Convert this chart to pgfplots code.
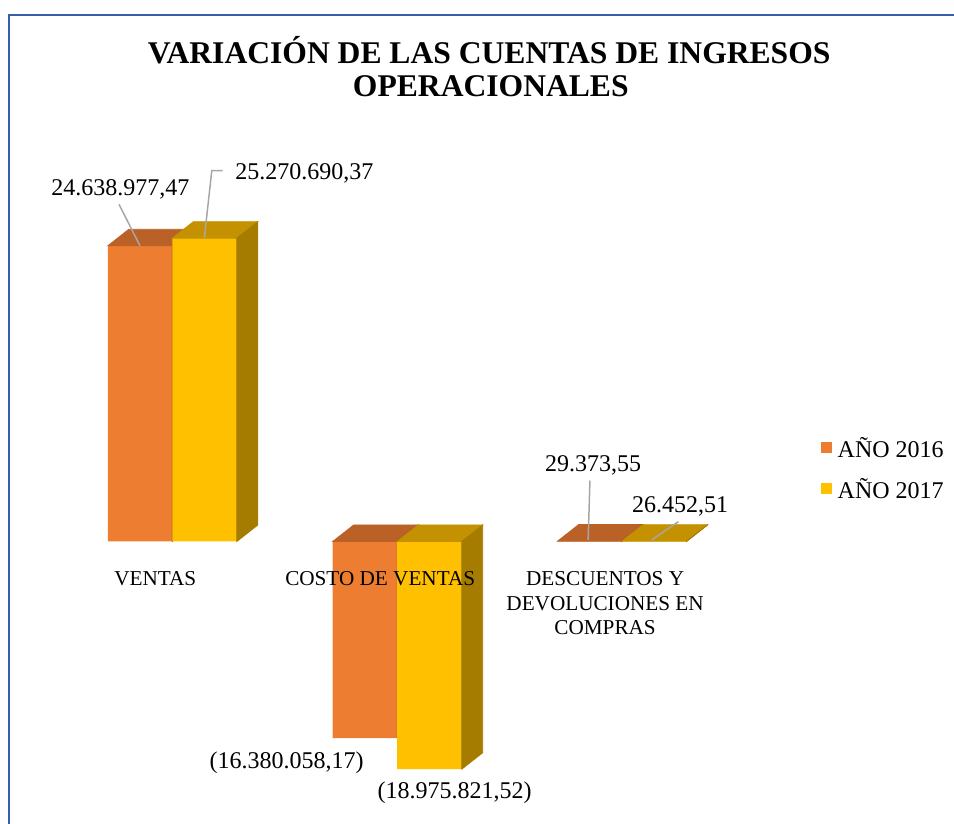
\documentclass[border=0pt]{standalone}
\usepackage{fontspec}
\setmainfont{Liberation Serif}
\usepackage{pgfplots}
\usepackage{pgfplotstable}
\pgfplotsset{compat=1.18}

\definecolor{front16}{HTML}{ED7D31}
\definecolor{top16}{RGB}{185,97,39}
\definecolor{side16}{RGB}{160,84,34}
\definecolor{front17}{HTML}{FFC000}
\definecolor{top17}{RGB}{196,146,0}
\definecolor{side17}{RGB}{166,124,0}
\definecolor{framecol}{RGB}{58,95,170}
\definecolor{leader}{RGB}{166,166,166}

\pgfplotsset{
  sqlegend/.style={legend image code/.code={\fill[##1] (0bp,-2.75bp) rectangle (5.5bp,2.75bp);}},
}

% values in millions; lx, ly = label offsets (bp) from the category centre / bar end
\pgfplotstableread{
x y lx ly label
0 24.63897747 -25.9 25.35 24.638.977,47
1 -16.38005817 -55.25 -15 (16.380.058,17)
2 0.02937355 -14.55 34.9 29.373,55
}\datasixteen
\pgfplotstableread{
x y lx ly label
0 25.27069037 66.05 29.2 25.270.690,37
1 -18.97582152 28.75 -14.65 (18.975.821,52)
2 0.02645251 28.95 14.1 26.452,51
}\dataseventeen

% top and right faces of a 3D bar, drawn relative to the bar's value point
\newcommand\barfaces[3]{%
  \pgfmathsetmacro\bh{\rawy*6}%
  \pgfmathsetmacro\bu{max(0,-\bh)}%
  \pgfmathsetmacro\bl{min(0,-\bh)}%
  \pgfmathsetmacro\buu{\bu+8.25}%
  \pgfmathsetmacro\bll{\bl+8.25}%
  \pgfmathsetmacro\bxl{#1-16.125}%
  \pgfmathsetmacro\bxr{#1+16.125}%
  \pgfmathsetmacro\bxll{\bxl+10.5}%
  \pgfmathsetmacro\bxrr{\bxr+10.5}%
  \fill[#2, fill opacity=1, draw opacity=1] (\bxl bp,\bu bp) -- (\bxr bp,\bu bp) -- (\bxrr bp,\buu bp) -- (\bxll bp,\buu bp) -- cycle;
  \fill[#3, fill opacity=1, draw opacity=1] (\bxr bp,\bl bp) -- (\bxrr bp,\bll bp) -- (\bxrr bp,\buu bp) -- (\bxr bp,\bu bp) -- cycle;
}

\begin{document}
\begin{tikzpicture}
\path[use as bounding box] (0,0) rectangle (477bp,412bp);
\draw[framecol, line width=1bp] (4.65bp,-5bp) -- (4.65bp,404.65bp) -- (485bp,404.65bp);
\begin{axis}[
  at={(0,0)}, anchor=south west,
  x=112.45bp, y=6bp,
  xmin=-0.7661, xmax=3.4758, ymin=-23.542, ymax=45.125,
  axis x line=middle, axis y line=none,
  axis line style={draw=none},
  major tick length=0pt,
  hide obscured x ticks=false,
  xtick={0,1,2},
  xticklabels={VENTAS, COSTO DE VENTAS, {DESCUENTOS Y\\DEVOLUCIONES EN\\COMPRAS}},
  xticklabel style={anchor=north, align=center, xshift=-8.5bp, yshift=-15bp, inner sep=0pt,
    font=\fontsize{10.6bp}{12.25bp}\selectfont},
  ytick=\empty,
  axis on top,
  clip=false,
  clip marker paths=true,
  legend style={draw=none, fill=none, at={(0.8603,0.4699)}, anchor=north west,
    font=\fontsize{12bp}{14bp}\selectfont, inner sep=0pt, row sep=10.5bp, column sep=2.8bp,
    nodes={inner sep=0pt, text height=10bp, text depth=0bp}},
  legend cell align=left,
]
\addplot[ybar, bar width=32.25bp, bar shift=-16.125bp, fill=front16, draw=none, sqlegend,
  point meta=explicit symbolic, nodes near coords, nodes near coords align={anchor=base},
  visualization depends on={\thisrow{lx}\as\lx},
  visualization depends on={\thisrow{ly}\as\ly},
  every node near coord/.append style={anchor=base, xshift=\lx bp, yshift=\ly bp,
    font=\fontsize{12bp}{14bp}\selectfont, text=black, inner sep=0pt},
] table[x=x, y=y, meta=label] {\datasixteen};
\addlegendentry{AÑO 2016}
\addplot[forget plot, only marks, mark=*, mark size=0pt,
  mark options={draw opacity=0, fill opacity=0}, scatter,
  visualization depends on={rawy\as\rawy},
  scatter/@pre marker code/.code={\barfaces{-16.125}{top16}{side16}},
  scatter/@post marker code/.code={},
] table[x=x, y=y] {\datasixteen};
\addplot[ybar, bar width=32.25bp, bar shift=16.125bp, fill=front17, draw=none, sqlegend,
  point meta=explicit symbolic, nodes near coords, nodes near coords align={anchor=base},
  visualization depends on={\thisrow{lx}\as\lx},
  visualization depends on={\thisrow{ly}\as\ly},
  every node near coord/.append style={anchor=base, xshift=\lx bp, yshift=\ly bp,
    font=\fontsize{12bp}{14bp}\selectfont, text=black, inner sep=0pt},
] table[x=x, y=y, meta=label] {\dataseventeen};
\addlegendentry{AÑO 2017}
\addplot[forget plot, only marks, mark=*, mark size=0pt,
  mark options={draw opacity=0, fill opacity=0}, scatter,
  visualization depends on={rawy\as\rawy},
  scatter/@pre marker code/.code={\barfaces{16.125}{top17}{side17}},
  scatter/@post marker code/.code={},
] table[x=x, y=y] {\dataseventeen};
% leader lines of the data labels
\draw[leader, line width=0.75bp] (axis cs:-0.237,28.1) -- (axis cs:-0.1436,24.64);
\draw[leader, line width=0.75bp] (axis cs:0.224,30.9) -- (axis cs:0.1756,30.9) -- (axis cs:0.1423,25.27);
\draw[leader, line width=0.75bp] (axis cs:1.857,5.07) -- (axis cs:1.849,0.125);
\draw[leader, line width=0.75bp] (axis cs:2.250,1.65) -- (axis cs:2.1316,0.125);
\end{axis}
\node[anchor=base, inner sep=0pt, font=\bfseries\fontsize{15.8bp}{16bp}\selectfont] at (244.6bp,380bp) {VARIACIÓN DE LAS CUENTAS DE INGRESOS};
\node[anchor=base, inner sep=0pt, font=\bfseries\fontsize{15.8bp}{16bp}\selectfont] at (245.4bp,363.85bp) {OPERACIONALES};
\end{tikzpicture}
\end{document}
